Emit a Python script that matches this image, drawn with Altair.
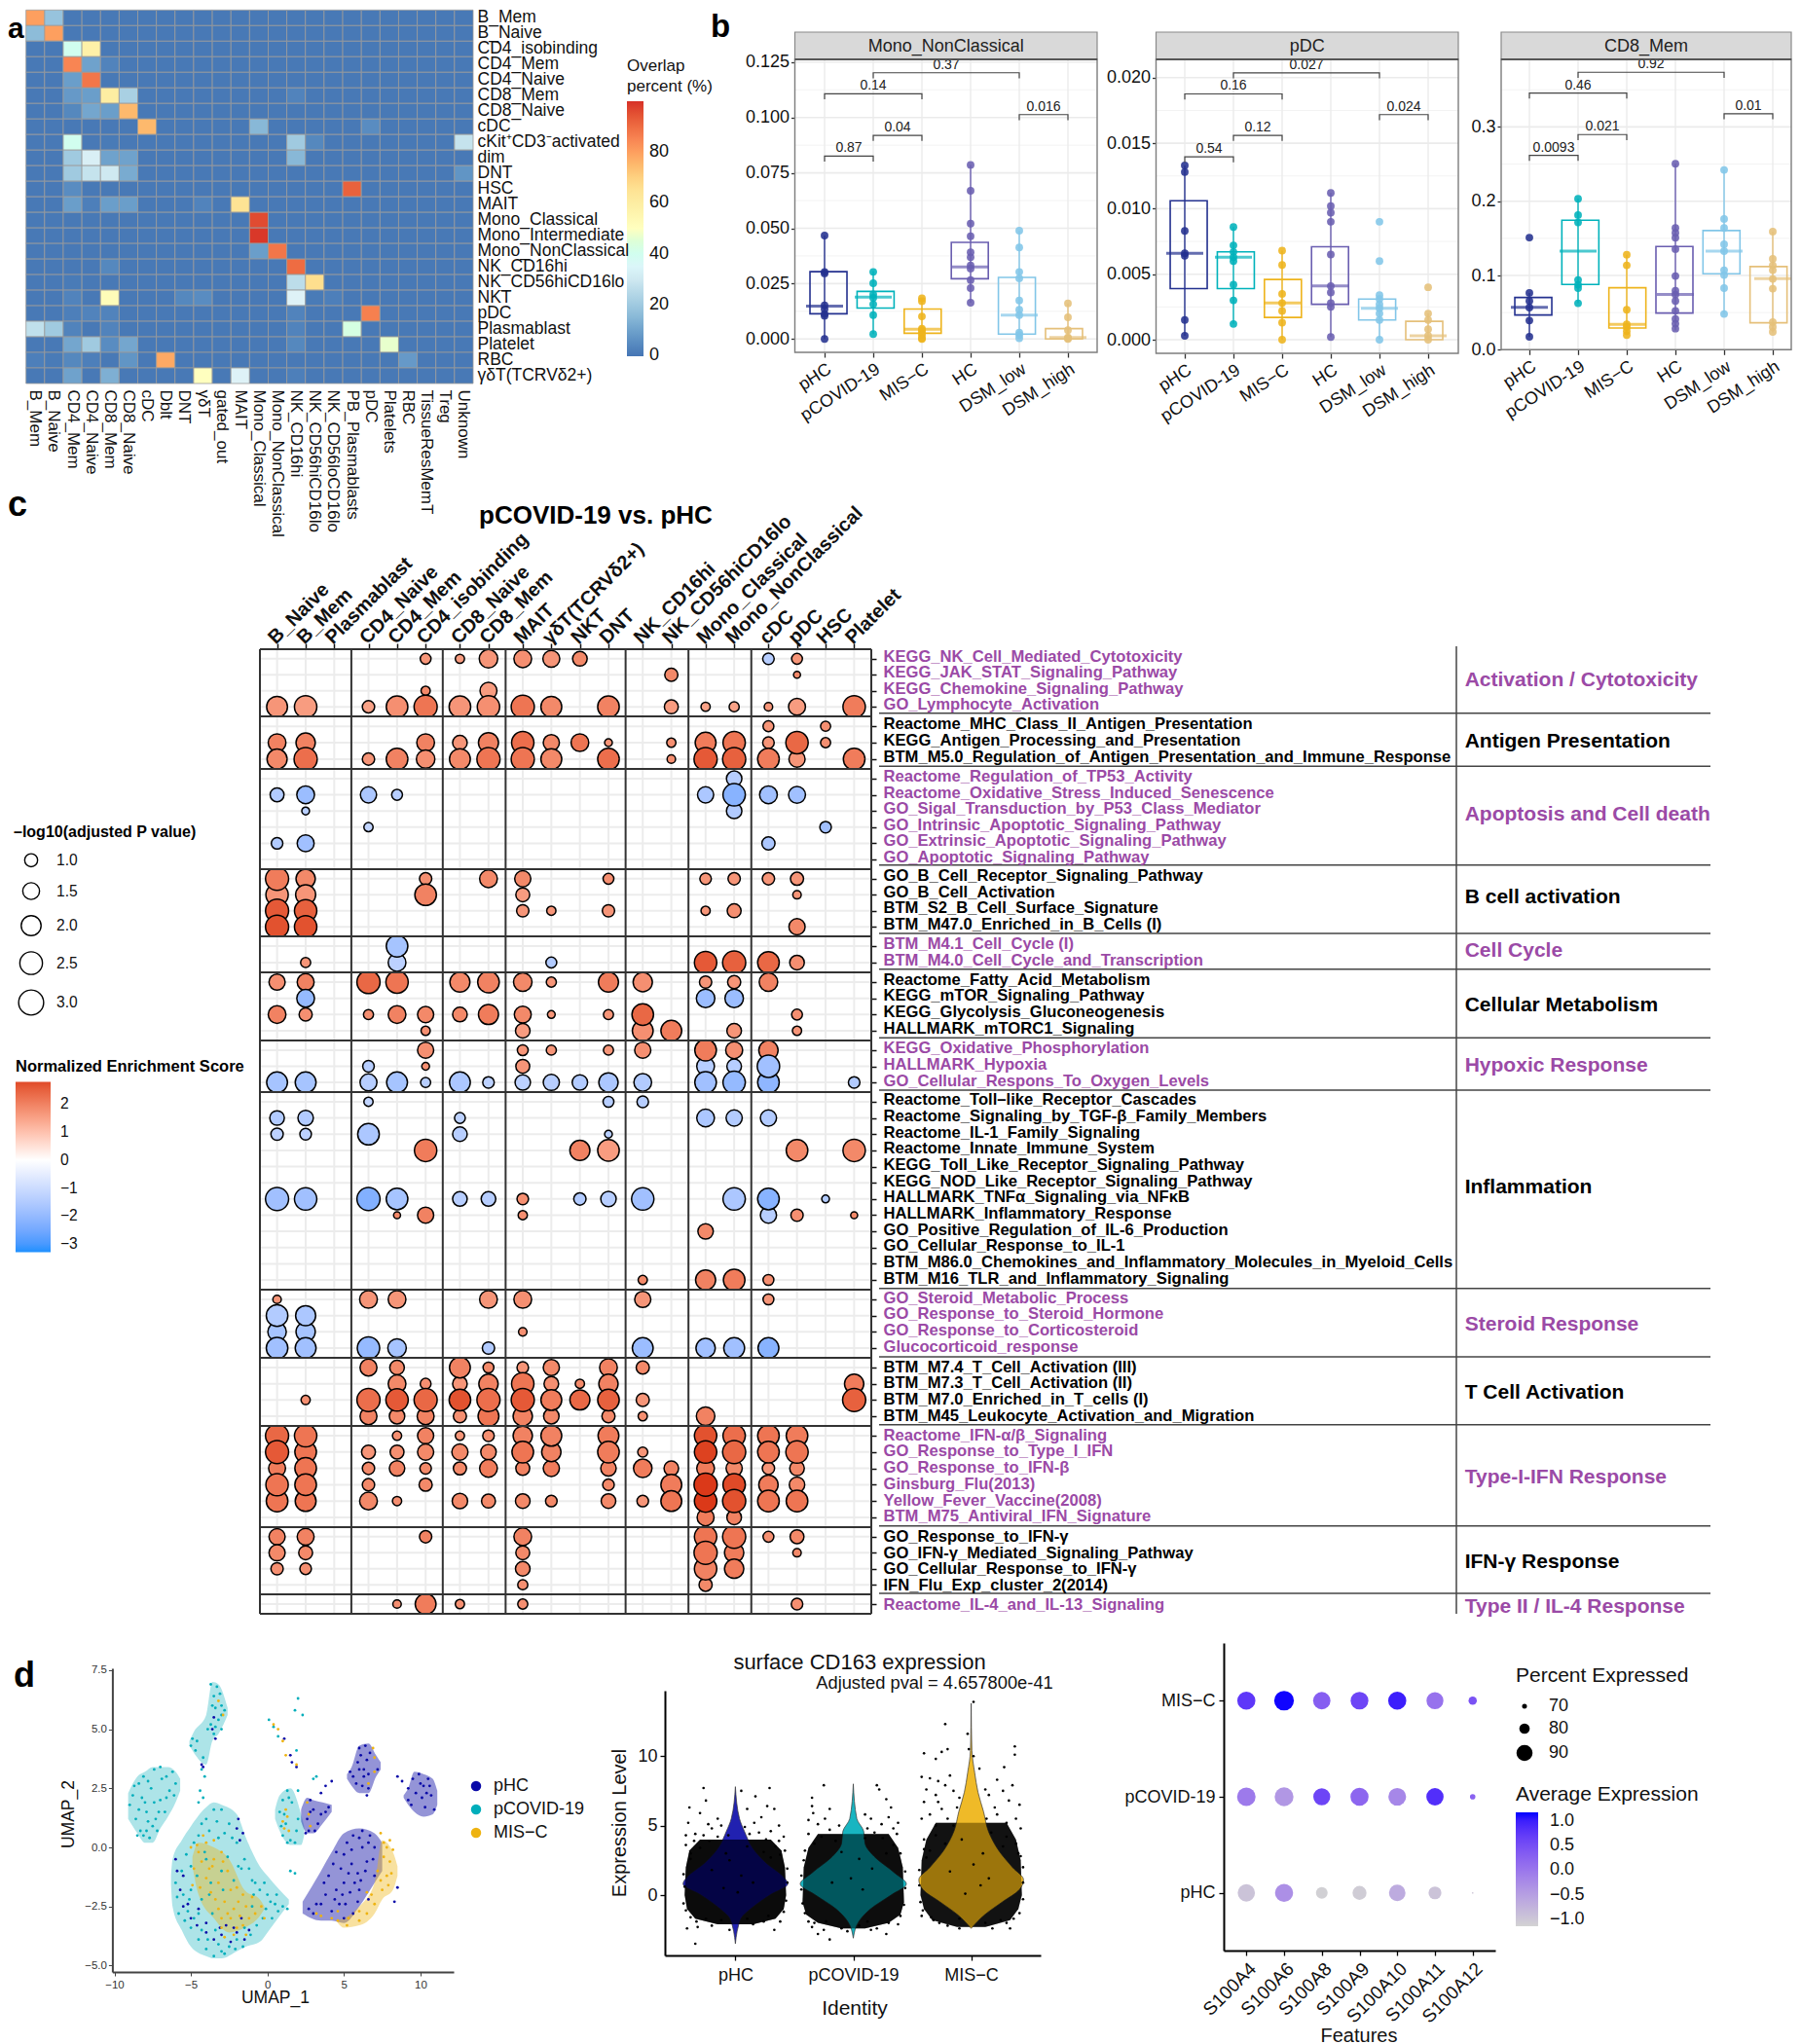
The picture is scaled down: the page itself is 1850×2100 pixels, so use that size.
import altair as alt
import pandas as pd

FONT = "Liberation Sans"
W = 1830
H0 = 658
BOUNDS = [666, 735, 789, 892, 961, 998, 1068, 1121, 1324, 1394, 1464, 1568, 1637, 1657]
HD = 2084 - (1657 - 8)

def lx(X): return X - 8
def ty(Y): return Y - 8
def by(Y): return Y - 1657

# ---------------------------------------------------------------- panel a data
HEAT_COLS = ["B_Mem","B_Naive","CD4_Mem","CD4_Naive","CD8_Mem","CD8_Naive","cDC","Dblt","DNT","γδT","gated_out","MAIT",
             "Mono_Classical","Mono_NonClassical","NK_CD16hi","NK_CD56hiCD16lo","NK_CD56loCD16lo","PB_Plasmablasts",
             "pDC","Platelets","RBC","TissueResMemT","Treg","Unknown"]
HEAT_ROWS = ["B_Mem","B_Naive","CD4_isobinding","CD4_Mem","CD4_Naive","CD8_Mem","CD8_Naive","cDC","cKit⁺CD3⁻activated","dim",
             "DNT","HSC","MAIT","Mono_Classical","Mono_Intermediate","Mono_NonClassical","NK_CD16hi","NK_CD56hiCD16lo","NKT",
             "pDC","Plasmablast","Platelet","RBC","γδT(TCRVδ2+)"]
HEAT_VALUES = {
 "B_Mem":{0:80,1:18}, "B_Naive":{0:16,1:80}, "CD4_isobinding":{2:40,3:58}, "CD4_Mem":{2:85,3:10,4:3}, "CD4_Naive":{2:9,3:88},
 "CD8_Mem":{2:8,3:9,4:60,5:22,14:3}, "CD8_Naive":{2:4,3:11,4:9,5:75}, "cDC":{6:75,12:15,18:5},
 "cKit⁺CD3⁻activated":{2:40,4:1,14:20,15:4,23:28}, "dim":{2:20,3:32,4:10,5:10,14:15}, "DNT":{2:20,3:28,4:30,5:12,23:7},
 "HSC":{2:5,17:92}, "MAIT":{2:9,3:2,4:9,5:9,9:3,11:65}, "Mono_Classical":{12:96}, "Mono_Intermediate":{12:99},
 "Mono_NonClassical":{12:9,13:88}, "NK_CD16hi":{4:4,14:90}, "NK_CD56hiCD16lo":{2:1,14:26,15:67},
 "NKT":{2:3,4:52,8:4,9:5,14:33,15:1,16:2}, "pDC":{2:2,3:3,4:3,14:3,18:86}, "Plasmablast":{0:27,1:20,2:3,4:3,14:3,17:43},
 "Platelet":{2:11,3:20,4:5,5:11,14:4,19:47}, "RBC":{0:2,1:1,2:4,3:2,5:7,7:78,20:8}, "γδT(TCRVδ2+)":{2:10,4:13,9:50,11:33,14:2},
}
HEAT_COLORS = ["#4575b4","#91bfdb","#e0f3f8","#ffffbf","#fee090","#fc8d59","#d73027"]

# ---------------------------------------------------------------- panel b data
B_CATS = ["pHC","pCOVID-19","MIS−C","HC","DSM_low","DSM_high"]
B_COLORS = ["#24318f","#00b2bb","#eeb41c","#6a5eb0","#82c6e8","#e5c07a"]
# per category: box low, median, box high, whisker low, whisker high
F1_BOX = [(.0114,.0149,.0304,0,.0467),(.014,.0189,.0215,.0022,.0307),(.0026,.0044,.0135,0,.0184),
          (.0272,.0325,.0436,.0164,.0786),(.0022,.0108,.0278,0,.0489),(0,.0007,.0047,0,.0161)]
F1_PTS = [[.0467,.0303,.0296,.0152,.0135,.0113,.0105,0],[.0303,.0252,.0201,.0186,.0157,.0108,.0022],
          [.0184,.0171,.0102,.0047,.004,.0029,.0018,.0003,0],[.0786,.0669,.0521,.0464,.0391,.0369,.0332,.0318,.0266,.023,.0164],
          [.0489,.0413,.0303,.0274,.0174,.0132,.0108,.0029,.0018,.0003],[.0161,.0098,.004,.0007,.0003,0]]
F1_BR = [(0,1,.0826,"0.87"),(1,2,.0919,"0.04"),(0,2,.1107,"0.14"),(1,4,.1202,"0.37"),(4,5,.1013,"0.016")]
F2_BOX = [(.0039,.0066,.0106,.0003,.0133),(.0039,.0063,.0067,.0012,.0086),(.0017,.0028,.0046,0,.0068),
          (.0027,.0041,.0071,.0002,.0112),(.0015,.0024,.0031,0,.0034),(0,.0003,.0014,0,.002)]
F2_PTS = [[.0133,.0128,.0083,.0066,.0064,.0015,.0003],[.0086,.0072,.0067,.0063,.006,.0042,.003,.0012],
          [.0068,.0057,.0035,.0028,.0022,.0013,0],[.0112,.0102,.0097,.009,.0065,.0041,.0036,.0028,.0025,.0002],
          [.009,.006,.0034,.0031,.0027,.0024,.002,.0015,0],[.004,.002,.0015,.0008,.0003,0]]
F2_BR = [(0,1,.01396,"0.54"),(1,2,.01559,"0.12"),(0,2,.01876,"0.16"),(1,4,.02037,"0.027"),(4,5,.01718,"0.024")]
F3_BOX = [(.0468,.0572,.0704,.0175,.0765),(.0878,.1328,.1744,.0625,.2032),(.0293,.0341,.0835,.0197,.128),
          (.0494,.0743,.139,.0262,.2504),(.1023,.1328,.1604,.0481,.2421),(.0363,.0957,.1119,.0232,.1591)]
F3_PTS = [[.151,.0765,.0656,.0568,.0393,.0175],[.2032,.1814,.1713,.094,.0874,.083,.0625],[.128,.1136,.0538,.0341,.0306,.0249,.0197],
          [.2504,.1639,.1573,.1508,.1355,.0992,.0795,.0743,.0656,.0524,.0415,.035,.0284],
          [.2421,.1761,.1639,.142,.1328,.1071,.1005,.083,.0481],[.1591,.1224,.1136,.1071,.0953,.0822,.0371,.0306,.024]]
F3_BR = [(0,1,.2618,"0.0093"),(1,2,.2897,"0.021"),(0,2,.3457,"0.46"),(1,4,.3736,"0.92"),(4,5,.3177,"0.01")]

# ---------------------------------------------------------------- panel c data
COL_NAMES = ["B_Naive","B_Mem","Plasmablast","CD4_Naive","CD4_Mem","CD4_isobinding","CD8_Naive","CD8_Mem","MAIT","γδT(TCRVδ2+)",
             "NKT","DNT","NK_CD16hi","NK_CD56hiCD16lo","Mono_Classical","Mono_NonClassical","cDC","pDC","HSC","Platelet"]
COL_KEYS = ["BN","BM","PB","C4N","C4M","C4I","C8N","C8M","MT","GD","NKT","DNT","N16","N56","MC","MN","CD","PD","HS","PL"]
COL_POS = [0,1,2,3.2,4.2,5.2,6.4,7.4,8.6,9.6,10.6,11.6,12.8,13.8,15,16,17.2,18.2,19.2,20.2]
FACET_EDGES = [-.6,2.6,5.8,8,12.2,14.4,16.6,20.8]

G1_L = ["KEGG_NK_Cell_Mediated_Cytotoxicity","KEGG_JAK_STAT_Signaling_Pathway","KEGG_Chemokine_Signaling_Pathway","GO_Lymphocyte_Activation"]
G1 = [[("C4I",.78,1.7),("C8N",.64,1.6),("C8M",1.76,1.7),("MT",1.64,1.8),("GD",1.52,1.7),("NKT",1.2,1.9),("CD",.85,-1.4),("PD",.78,1.7)],
      [("N56",1.02,1.9),("PD",.48,1.9)],
      [("C4I",.64,1.9),("C8M",1.52,1.6)],
      [("BN",2.16,1.7),("BM",2.45,1.6),("C4N",.93,1.5),("C4M",2.3,1.8),("C4I",2.6,2.2),("C8N",2.3,1.7),("C8M",2.45,1.8),("MT",2.6,2.2),
       ("GD",2.16,1.9),("DNT",2.3,2.0),("N56",1.11,1.6),("MC",.64,1.5),("MN",.71,1.5),("CD",.58,1.7),("PD",1.52,1.6),("PL",2.45,2.1)]]
G2_L = ["Reactome_MHC_Class_II_Antigen_Presentation","KEGG_Antigen_Processing_and_Presentation","BTM_M5.0_Regulation_of_Antigen_Presentation_and_Immune_Response"]
G2 = [[("CD",.78,1.7),("HS",.71,1.8)],
      [("BN",1.64,2.0),("BM",1.89,2.0),("C4I",1.64,2.0),("C8N",1.2,1.7),("C8M",2.02,2.0),("MT",2.45,2.3),("GD",1.41,1.9),("NKT",1.64,2.2),
       ("DNT",.53,1.7),("N56",.64,1.8),("MC",2.16,2.1),("MN",2.45,2.2),("CD",.85,1.7),("PD",2.45,2.4),("HS",.71,1.8)],
      [("BN",2.02,1.9),("BM",2.6,2.3),("C4N",.93,1.7),("C4M",2.3,2.0),("C4I",1.76,1.8),("C8N",2.16,1.9),("C8M",2.6,2.2),("MT",2.6,2.2),
       ("GD",2.16,1.9),("DNT",2.3,2.3),("N56",.58,1.8),("MC",2.6,2.6),("MN",2.6,2.5),("CD",2.3,2.1),("PD",1.41,1.7),("PL",2.3,2.1)]]
G3_L = ["Reactome_Regulation_of_TP53_Activity","Reactome_Oxidative_Stress_Induced_Senescence","GO_Sigal_Transduction_by_P53_Class_Mediator",
        "GO_Intrinsic_Apoptotic_Signaling_Pathway","GO_Extrinsic_Apoptotic_Signaling_Pathway","GO_Apoptotic_Signaling_Pathway"]
G3 = [[("MN",1.31,-1.4)],
      [("BN",1.11,-1.5),("BM",1.64,-1.9),("C4N",1.41,-1.6),("C4M",.78,-1.4),("MC",1.41,-1.6),("MN",2.45,-2.2),("CD",1.64,-1.8),("PD",1.52,-1.8)],
      [("BM",.53,-1.4),("MN",1.31,-1.5)],
      [("C4N",.64,-1.2),("HS",.85,-1.8)],
      [("BN",.85,-1.5),("BM",1.52,-1.8),("CD",1.02,-1.6)],
      []]
G4_L = ["GO_B_Cell_Receptor_Signaling_Pathway","GO_B_Cell_Activation","BTM_S2_B_Cell_Surface_Signature","BTM_M47.0_Enriched_in_B_Cells (I)"]
G4 = [[("BN",2.6,2.1),("BM",1.89,1.9),("C4I",.93,1.8),("C8M",1.64,1.9),("MT",1.41,1.9),("DNT",.78,1.8),("MC",.85,1.7),("MN",.93,1.7),("CD",.93,1.7),("PD",1.02,1.7)],
      [("BN",2.45,1.7),("BM",2.02,1.7),("C4I",2.3,2.0),("MT",1.11,1.6),("PD",.58,1.7)],
      [("BN",2.6,2.6),("BM",2.45,2.5),("MT",.93,1.7),("GD",.64,1.7),("DNT",.93,1.7),("MC",.64,1.7),("MN",1.11,1.8)],
      [("BN",2.6,2.7),("BM",2.45,2.7),("PD",1.41,1.9)]]
G5_L = ["BTM_M4.1_Cell_Cycle (I)","BTM_M4.0_Cell_Cycle_and_Transcription"]
G5 = [[("C4M",2.3,-1.7)],
      [("BM",.71,1.7),("C4M",1.64,-1.3),("GD",.78,-1.5),("MC",2.45,2.6),("MN",2.6,2.5),("CD",2.3,2.4),("PD",1.2,1.8)]]
G6_L = ["Reactome_Fatty_Acid_Metabolism","KEGG_mTOR_Signaling_Pathway","KEGG_Glycolysis_Gluconeogenesis","HALLMARK_mTORC1_Signaling"]
G6 = [[("BN",1.41,1.8),("BM",1.52,2.0),("C4N",2.6,2.4),("C4M",2.45,2.2),("C8N",2.02,1.9),("C8M",2.3,2.0),("MT",1.76,1.9),("GD",.71,1.7),
       ("DNT",2.02,2.1),("N16",1.89,1.8),("MC",.93,1.7),("MN",1.02,1.7),("CD",1.76,2.0)],
      [("BM",1.64,-2.0),("MC",1.76,-1.9),("MN",1.76,-1.9)],
      [("BN",1.64,2.0),("BM",1.02,1.8),("C4N",.71,1.8),("C4M",1.64,2.0),("C4I",1.41,1.9),("C8N",1.2,1.9),("C8M",2.02,2.1),("MT",1.52,1.9),
       ("GD",.53,1.7),("DNT",.71,1.7),("N16",2.3,2.4),("PD",.78,1.8)],
      [("C4I",.64,1.8),("MT",1.2,1.6),("N16",2.16,1.8),("N56",2.16,2.1),("MN",1.2,1.7),("PD",.64,1.7)]]
G7_L = ["KEGG_Oxidative_Phosphorylation","HALLMARK_Hypoxia","GO_Cellular_Respons_To_Oxygen_Levels"]
G7 = [[("C4I",1.41,1.8),("MT",.78,1.7),("GD",.71,1.7),("DNT",.71,1.7),("N16",1.41,1.8),("MC",2.3,2.1),("MN",1.52,1.8),("CD",1.89,2.0)],
      [("C4N",.85,-1.4),("C4I",.53,1.8),("MT",1.11,1.7),("MC",1.64,-1.4),("MN",1.2,-1.4),("CD",2.45,-1.8)],
      [("BN",2.16,-1.7),("BM",2.16,-1.7),("C4N",1.52,-1.4),("C4M",2.16,-1.7),("C4I",.71,-1.4),("C8N",2.16,-1.6),("C8M",.85,-1.3),("MT",1.31,-1.3),
       ("GD",1.41,-1.4),("NKT",1.31,-1.5),("DNT",1.89,-1.6),("N16",1.64,-1.5),("MC",2.3,-1.8),("MN",2.45,-2.0),("CD",2.3,-2.1),("PL",.85,-1.5)]]
G8_L = ["Reactome_Toll–like_Receptor_Cascades","Reactome_Signaling_by_TGF-β_Family_Members","Reactome_IL-1_Family_Signaling","Reactome_Innate_Immune_System",
        "KEGG_Toll_Like_Receptor_Signaling_Pathway","KEGG_NOD_Like_Receptor_Signaling_Pathway","HALLMARK_TNFα_Signaling_via_NFκB","HALLMARK_Inflammatory_Response",
        "GO_Positive_Regulation_of_IL-6_Production","GO_Cellular_Response_to_IL-1","BTM_M86.0_Chemokines_and_Inflammatory_Molecules_in_Myeloid_Cells","BTM_M16_TLR_and_Inflammatory_Signaling"]
G8 = [[("C4N",.64,-1.2),("DNT",.78,-1.4),("N16",.85,-1.4)],
      [("BN",1.2,-1.5),("BM",1.31,-1.5),("C8N",.78,-1.3),("MC",1.64,-1.6),("MN",1.41,-1.5),("CD",1.41,-1.5)],
      [("BN",.93,-1.3),("BM",.85,-1.3),("C4N",2.3,-1.6),("C8N",1.2,-1.4),("DNT",.53,-1.4)],
      [("C4I",2.45,2.1),("NKT",2.02,2.0),("DNT",2.3,1.6),("PD",2.3,1.9),("PL",2.45,1.9)],
      [],[],
      [("BN",2.6,-1.8),("BM",2.45,-1.8),("C4N",2.6,-2.3),("C4M",2.3,-1.7),("C8N",1.2,-1.4),("C8M",1.2,-1.4),("MT",.85,1.8),("NKT",.93,-1.5),
       ("DNT",1.31,-1.4),("N16",2.45,-1.8),("MN",2.45,-1.6),("CD",2.3,-2.2),("HS",.53,-1.5)],
      [("C4M",.48,1.9),("C4I",1.41,2.0),("MT",.64,1.8),("CD",1.41,-1.4),("PD",.93,1.8),("PL",.48,1.9)],
      [("MC",1.31,1.9)],
      [],[],
      [("N16",.64,1.9),("MC",2.02,2.0),("MN",2.3,2.1),("CD",.78,1.8)]]
G9_L = ["GO_Steroid_Metabolic_Process","GO_Response_to_Steroid_Hormone","GO_Response_to_Corticosteroid","Glucocorticoid_response"]
G9 = [[("BN",.58,1.7),("C4N",1.64,1.7),("C4M",1.64,1.7),("C8M",1.64,1.7),("MT",1.64,1.8),("N16",1.41,1.7),("CD",.78,1.7)],
      [("BN",2.3,-1.5),("BM",2.02,-1.6)],
      [("BN",1.76,-1.7),("BM",1.89,-1.7),("MT",.58,1.8)],
      [("BN",2.3,-1.8),("BM",2.16,-1.8),("C4N",2.45,-2.0),("C4M",1.76,-1.7),("C8M",.93,-1.5),("N16",2.16,-1.9),("MC",1.89,-1.8),("MN",2.16,-1.8),("CD",2.16,-2.2)]]
G10_L = ["BTM_M7.4_T_Cell_Activation (III)","BTM_M7.3_T_Cell_Activation (II)","BTM_M7.0_Enriched_in_T_cells (I)","BTM_M45_Leukocyte_Activation_and_Migration"]
G10 = [[("C4N",1.52,2.0),("C4M",1.2,1.9),("C8N",2.16,2.0),("C8M",.78,1.9),("MT",.85,1.7),("GD",1.41,1.9),("DNT",1.64,2.0),("N16",1.02,1.9)],
       [("C4M",1.64,1.9),("C4I",.78,1.8),("C8N",1.2,1.7),("C8M",1.89,2.0),("MT",2.45,2.2),("GD",1.2,1.8),("NKT",.64,1.9),("DNT",1.89,2.0),("PL",1.89,2.1)],
       [("BM",.64,1.8),("C4N",2.6,2.3),("C4M",2.45,2.6),("C4I",2.6,2.4),("C8N",2.3,2.7),("C8M",2.6,2.3),("MT",2.6,2.6),("GD",2.16,2.1),("NKT",2.02,2.4),
        ("DNT",2.3,2.5),("N16",1.02,1.7),("PL",2.6,2.5)],
       [("C4N",1.52,2.0),("C4M",1.31,1.9),("C4I",1.52,2.0),("C8N",1.02,1.8),("C8M",2.16,2.2),("MT",1.89,2.0),("GD",1.31,1.9),("DNT",1.02,1.9),("N16",.64,1.8),("MC",1.76,2.0)]]
G11_L = ["Reactome_IFN-α/β_Signaling","GO_Response_to_Type_I_IFN","GO_Response_to_IFN-β","Ginsburg_Flu(2013)","Yellow_Fever_Vaccine(2008)","BTM_M75_Antiviral_IFN_Signature"]
G11 = [[("BN",2.6,2.4),("BM",2.45,2.2),("C4M",.64,1.8),("C4I",1.41,2.0),("C8N",.64,1.7),("C8M",.85,1.8),("MT",1.89,2.0),("GD",2.16,2.0),("DNT",2.16,2.1),
        ("MC",2.45,2.7),("MN",2.45,2.3),("CD",2.3,2.2),("PD",2.3,2.1)],
       [("BN",2.6,2.6),("BM",2.3,2.2),("C4N",1.11,1.7),("C4M",1.11,1.8),("C4I",1.41,1.9),("C8N",1.41,1.9),("C8M",1.31,1.9),("MT",2.3,2.2),("GD",1.89,2.0),
        ("DNT",2.3,2.1),("N16",.71,1.7),("MC",2.45,2.9),("MN",2.6,2.4),("CD",2.3,2.2),("PD",2.45,2.2)],
       [("BN",1.52,2.1),("BM",2.3,2.2),("C4N",.93,1.9),("C4M",1.31,2.0),("C4I",.85,1.9),("C8N",1.02,1.9),("C8M",1.64,2.1),("MT",1.11,2.0),("GD",1.41,2.1),
        ("DNT",1.31,2.0),("N16",1.76,2.1),("N56",1.2,2.0),("MC",1.64,2.1),("MN",1.41,1.9),("CD",.93,1.7),("PD",1.2,1.9)],
       [("BN",2.45,2.2),("BM",2.3,2.2),("C4N",.93,1.9),("C4I",1.02,1.9),("DNT",.85,1.9),("N56",2.16,2.1),("MC",2.6,3.0),("MN",2.45,2.8),("CD",1.89,2.1),("PD",1.31,1.9)],
       [("BN",2.3,2.2),("BM",2.16,2.2),("C4N",1.64,1.9),("C4M",.64,1.8),("C8N",1.31,1.9),("C8M",1.11,1.9),("MT",1.2,1.9),("GD",.85,1.9),("DNT",1.2,1.9),
        ("N16",.85,1.7),("N56",2.16,2.2),("MC",2.45,3.0),("MN",2.6,2.7),("CD",2.3,2.2),("PD",2.3,2.2)],
       [("MC",1.52,2.1),("MN",1.2,2.0)]]
G12_L = ["GO_Response_to_IFN-γ","GO_IFN-γ_Mediated_Signaling_Pathway","GO_Cellular_Response_to_IFN-γ","IFN_Flu_Exp_cluster_2(2014)"]
G12 = [[("BN",1.41,2.0),("BM",1.52,2.0),("C4I",.93,2.0),("MT",1.64,2.0),("MC",2.45,2.2),("MN",2.6,2.2),("CD",.78,1.8),("PD",1.11,1.9)],
       [("BN",1.41,1.9),("BM",1.11,1.9),("MT",1.11,1.9),("MC",2.6,2.2),("MN",1.89,2.1),("PD",.58,1.9)],
       [("BN",.93,1.8),("BM",.85,1.8),("MT",1.2,1.9),("MC",2.45,2.0),("MN",1.89,2.1)],
       [("MT",.71,1.8),("MC",1.02,1.9)]]
G13_L = ["Reactome_IL-4_and_IL-13_Signaling"]
G13 = [[("C4M",.58,1.8),("C4I",2.16,2.1),("C8N",.64,1.8),("MT",.71,1.8),("PD",.85,1.8)]]

ROW_GROUPS = [(G1_L,G1),(G2_L,G2),(G3_L,G3),(G4_L,G4),(G5_L,G5),(G6_L,G6),(G7_L,G7),(G8_L,G8),(G9_L,G9),(G10_L,G10),(G11_L,G11),(G12_L,G12),(G13_L,G13)]
PURPLE = "#9b4aa6"
GROUP_COLORS = [PURPLE,"#000000"]*6 + [PURPLE]
GROUP_NAMES = ["Activation / Cytotoxicity","Antigen Presentation","Apoptosis and Cell death","B cell activation","Cell Cycle","Cellular Metabolism",
               "Hypoxic Response","Inflammation","Steroid Response","T Cell Activation","Type-I-IFN Response","IFN-γ Response","Type II / IL-4 Response"]
GROUP_Y = [697.7,760.7,836,921,975.7,1032,1094,1219,1360,1429.5,1517,1603.5,1650]
SEP_Y = [731.7,786.3,887.7,958,994.7,1065.3,1119,1322.8,1393,1462.8,1566.7,1636]
LABEL_SHIFT = [-2.5,-2.5,-2.5,-3,-2.7,-3,-2,-2,-1.8,-1,-1,0,0]

# ---------------------------------------------------------------- panel d data
U_TEAL_BANDS = [
 [(-9.1,1.2,2.3),(-8.5,.6,3.0),(-8,.2,3.2),(-7.5,.2,3.4),(-7,.8,3.4),(-6.5,1.3,3.4),(-6,1.9,3.2),(-5.7,2.4,2.9)],
 [(-6.3,-1.6,-1.2),(-6.2,-2.5,-.5),(-5.6,-3.5,.3),(-5,-4.2,.9),(-4,-4.6,1.7),(-3.5,-4.7,1.9),(-3,-4.7,1.8),(-2,-4.4,1.4),(-1.4,-4.2,.4),(-.5,-4,-.8),(0,-3.6,-1.2),(.8,-2.9,-1.8),(1.4,-2.4,-2.2)],
 [(-5.1,4.3,4.5),(-4.8,4,4.9),(-4,3.5,5.6),(-3.6,4.5,7),(-3.2,4.8,6.9),(-2.6,5.6,5.9)],
 [(.5,1.2,1.6),(.8,.7,2.2),(1.5,.1,2.5),(2.2,.1,1.4),(2.4,.5,.9)],
]
U_NAVY_BANDS = [
 [(2.2,1.1,1.6),(2.6,.6,2.1),(3,.6,2),(3.6,1,1.9),(4.2,1.5,1.8)],
 [(2.3,-2.8,-2.3),(3.5,-3.1,-1),(4.2,-3.1,-.2),(5,-3.2,.6),(6,-2.5,.8),(7,-1.5,.6),(7.5,-1,.2)],
 [(5.2,2.9,3.1),(5.5,2.6,3.4),(6,2.3,4.3),(6.6,2.3,4.4),(7.1,3,3.9),(7.4,3.3,3.6)],
 [(8.9,2.1,2.2),(9.2,1.8,2.5),(9.6,1.5,3.2),(10.2,1.3,3.1),(10.8,1.4,2.9),(11.1,1.8,2.4)],
]
U_GOLD_BANDS = [
 [(4.6,-3.2,-3.1),(5,-3.4,-3),(6,-3.3,-2.5),(7,-2.8,-1.5),(7.5,-2.2,.3),(8.2,-1.8,-.2),(8.5,-1.2,-.8)],
 [(-4.9,-.8,-.4),(-4.5,-2,.2),(-3.5,-3,0),(-2.5,-3.6,-.5),(-1.5,-3.4,-1.8),(-.5,-2.9,-2.2),(-.2,-2.6,-2.5)],
]
U_TEAL = [(-9,1.8),(-8.7,2.6),(-8.6,1.2),(-8.3,.7),(-8.2,2.1),(-8.1,3),(-7.9,1.5),(-7.7,.4),(-7.6,2.5),(-7.4,3.3),(-7.3,1.2),(-7,2),(-6.9,2.9),(-6.7,1.5),(-6.4,2.4),(-6.2,3.2),(-6,2.7),(-7.5,.9),(-8.5,.5),(-7,3.4),(-8,1.9),(-7.2,.7),
 (-3.7,6.9),(-3.5,6.4),(-3.3,6.8),(-3.6,6),(-3,6),(-2.8,5.8),(-3.2,5.4),(-3.7,5.2),(-3,5),(-3.5,4.8),(-4.9,4.6),(-5,4.3),(-4.7,4.1),(-4.2,3.8),(-4.1,3),(-4.4,2.4),(-4.5,1.9),
 (-5.5,-2),(-6,-1.5),(-5.8,-2.8),(-5,-3.4),(-4.5,-3.9),(-4,-4.3),(-3.5,-4.6),(-3,-4.4),(-2.5,-4.2),(-2,-3.9),(-1.5,-3.4),(-4.5,.5),(-4,1.2),(-3.5,1.6),(-3,1.6),(-2.5,1),(-3.2,.4),(-2,.2),(-1.5,-.5),(-4,-.5),(-5,-.8),(-3,-1),(-2.2,-1.4),(-1,-1.4),(-.5,-1.8),(0,-2),(.5,-2.4),(1,-2.5),(1.3,-2.6),(-1,-2.5),(-.3,-3),(.3,-3),(-3.8,-2),(-5,-1.8),(-4.5,-2.8),(-3.4,-3.5),(-1.9,-.8),(-4.6,-1.2),
 (1,2),(.8,1.5),(1.2,1),(1,.5),(1.5,.3),(1.8,.2),(1.6,1.9),(2,2.4),(1.3,2.4),(3,2.9),(3.2,3),(1.5,-1),(1.8,-1.1),(2,6.3),(2.3,5.6),(1.8,5.8),
 (-8.8,2.2),(-8.4,1.6),(-8.4,2.7),(-7.8,2.8),(-7.8,1.1),(-7.1,1.5),(-6.6,2.1),(-6.6,3),(-6.1,2.2),(-7.4,1.9),(-7.9,.7),(-8.1,.5),
 (-5.2,-2.7),(-5.6,-1),(-5.3,-.3),(-4.8,.2),(-4.3,1),(-3.8,.7),(-3.3,1.1),(-2.8,.6),(-2.3,.4),(-2.6,-.4),(-1.7,-.9),(-1.2,-.9),(-.8,-1.5),(-.2,-1.5),(.2,-2.3),(.7,-2.7),(-.7,-3.3),(-1.1,-3.7),(-1.6,-4.2),(-2.1,-4.3),(-2.8,-4.5),(-3.2,-4.1),(-3.9,-3.9),(-4.3,-3.5),(-4.8,-3),(-5.4,-3.1),(-5.1,-2.2),(-5.9,-2.1),(-4.3,-2.2),(-3.7,-1.5),(-3.6,-2.8),(-4.1,-.2),(-2.9,-1.8),(-.9,-2),(-.1,-2.6),(.6,-2),
 (1.1,1.4),(1.4,2.1),(.9,.9),(1.9,.7),(2,1.2),(1.3,.2),(-3.4,5.9),(-3.1,6.5),(-3,5.6),(-3.4,5.1),(-3.9,5),(-4.6,4.5),(-4.3,3.3),(-4.2,2.1),(.1,5.4),(.4,5.1),(.7,4.7),(1.9,4.1)]
U_NAVY = [(-6,-.5),(-5.9,-1),(-5.7,-1.8),(-5.5,-2.5),(-5,-3),(-4.6,-3.3),(-4,-3.6),(-3.5,-3.9),(-3,-3.7),(-2.4,-4),(-2,-3.6),(-1.5,-3.9),(-1.7,-3),(-2.7,-3.3),(-2,.8),(-1.9,1.2),(-1.8,.3),
 (-3.6,5),(-3.4,4.6),(-3.5,5.5),(-4.3,3.5),(-4.2,3.4),(2.6,1.2),(2.7,.7),(3,1.6),(2.8,2),(3.3,1),(3.8,1.5),(4,1.7),(2.5,.6),(4.2,2.8),(3.8,2.6),(3.5,2.3),(1.5,3.9),(1.9,3.4),
 (6,4.2),(6.4,4.3),(6.7,4),(5.9,3.6),(6.3,3.3),(5.6,3),(6.6,3.1),(6.2,2.6),(6.5,2.2),(5.4,3.2),(7.2,3.3),(8.5,3),(8.8,2.8),
 (9.2,2),(9.5,2.9),(9.9,3.1),(10.2,2.6),(10.5,2.9),(10.7,2.2),(10.3,1.7),(10.9,1.6),(9.7,2.3),(10.1,2.1),
 (5.2,.2),(6,.4),(6.7,.5),(7,0),(4.5,-.2),(5.5,-.7),(6.5,-.6),(4,-1.2),(5,-1.5),(6,-1.8),(7,-1.2),(3.8,-2),(4.7,-2.4),(5.6,-2.8),(3,-2.8),(6.6,-2.2),(8.5,-1.7),(8.3,-2.3),(5,-3),(3.5,-2.4),(4.8,-.9),(5.9,-1.1),
 (4.3,-.7),(5,-.3),(5.6,.5),(6.2,0),(6.4,-1),(5.4,-1.9),(4.5,-1.8),(4.2,-2.7),(3.2,-2.4),(3.7,-1.5),(5.1,-2.4),(5.9,-2.3),(6.9,-.5),(5.5,-.1),(6.1,-1.4),(4.9,-2),(2.7,-2.6),(4.4,-2.2),(5.3,-1.1),(6.6,.2),(6.2,.7),(5.7,-1.5),
 (6.1,3.9),(6.5,3.7),(5.8,2.7),(6.3,3),(6,3.3),(6.6,2.5),(9.4,1.8),(10.6,2.6),(10,2.7),(9.2,2.5),(10.4,2.3),
 (-4,-3.2),(-4.5,-2.6),(-5.2,-2.4),(-2.2,-3.4),(-1.2,-3.5),(-3.1,-3.4),(-5.5,-1.2),(-1.6,.6),(2.8,1.5),(3.1,.7),(3.5,1.4),(1.1,4.6),(1.6,3.6)]
U_GOLD = [(-4.5,-.2),(-4.8,-.9),(-4,-1.3),(-3.5,-.5),(-3,-.2),(-4,.2),(-3.2,-1.5),(-2.6,-1),(-2,-1.7),(-3.4,-2.2),(-2.8,-2.3),(-2.2,-2.6),(-1.6,-2),(-1,-2.1),(-.4,-2.5),(-3,-3),(-2.4,-3),(-1.8,-2.9),(-1.2,-3),(-2,-3.4),(-2.8,-3.8),(-1.4,-3.7),(-3.8,-.9),(-5,0),
 (-3.2,6.2),(-2.9,5.6),(.7,5),(1,4.5),(1.2,3.9),(1.9,3.5),(1,1.1),(1.2,1.6),(1.4,.7),(2.6,1.9),(2.7,1.4),(2.8,.9),(6.9,4.2),(7,3.8),(7,3.2),(6.6,2.7),
 (7.8,0),(8,-.6),(7.8,-1.2),(7.5,-1.8),(7,-2.4),(6.5,-2.8),(6,-3.1),(5.2,-3.3),(4.6,-3.1),(3.5,-2.9),(3.2,-2.8),(7.4,.6),(8.2,-.1),(7.2,-1),(7.9,-1.6),(4.6,-2.7),(6.5,-1.9),
 (-3.6,-.8),(-4.3,-.6),(-4.4,-1.7),(-3.7,-1.9),(-2.9,-.6),(-2.4,-1.8),(-1.9,-2.3),(-2.6,-2.8),(-3.2,-2.6),(-1.4,-2.5),(-.8,-2.8),(-1.6,-3.3),(-2.2,-3.7),(-3,-3.4),(-4.2,.5),(-4.6,.1),(-3.5,.3),(-4.9,-1.6),(7.6,-.4),(7.4,-1.4),(8.1,-1.1),(6.8,-2),(6,-2.7),(5.3,-3),(4.2,-3),(7.6,.2),(8,.3),(1.1,.8),(1.3,1.3),(-.2,-3),(.4,5.2)]
D_GROUPS = ["pHC","pCOVID-19","MIS−C"]
D_COLORS = ["#0a0aa8","#00aebb","#eeb311"]

V_SHAPE = [[(7.8,0),(5.5,.035),(4.6,.076),(3.4,.146),(2.3,.263),(1.3,.41),(.8,.444),(0,.292),(-1,.129),(-1.7,.047),(-3.5,0)],
           [(8,0),(5.5,.03),(4.6,.088),(3.7,.10),(2.8,.175),(1.6,.35),(.8,.45),(0,.32),(-1,.146),(-1.9,.047),(-3.1,0)],
           [(13.8,0),(10.4,.006),(8.8,.03),(7.4,.058),(6,.105),(4.6,.146),(3.2,.234),(2,.35),(1.1,.444),(.4,.41),(-.5,.263),(-1.4,.117),(-2.4,0)]]
V_CLOUD = [[(4,.3),(3.2,.39),(2,.42),(0,.43),(-1,.41),(-1.7,.34),(-2.1,.15)],
           [(4.4,.3),(3.4,.38),(2,.42),(-.5,.43),(-1.4,.4),(-2,.3),(-2.4,.1)],
           [(5.2,.3),(4,.38),(2.5,.42),(0,.43),(-1,.4),(-1.8,.33),(-2.3,.12)]]
V_SHADE = [.55,.45,.28]
V_DOTS = [[(-.39,6.3),(-.27,7.7),(-.25,6.8),(-.3,5.9),(-.4,5.2),(-.15,5.5),(.05,7.5),(.17,7.1),(.29,7.7),(.33,6.2),(.27,6.4),(.22,5.6),(.37,5),(.1,6.2),(-.2,4.8),(-.34,4.4),(.3,4.6),(-.41,-2.4),(-.34,-3.5),(-.32,-2.3),(-.2,-2.2),(.15,-2.1),(.33,-2.5),(.38,-1.9),(-.38,-1.6),(.28,-1.5),(-.05,2.5),(.05,1.4),(-.1,.5),(.1,3.5),(-.08,3),(.02,.2),(.15,.9),(-.2,1.8),
           (-.38,3),(-.3,3.4),(-.22,3.9),(-.35,3.9),(-.27,4.3),(-.15,4.2),(-.38,2.6),(.38,2.9),(.34,3.5),(.26,4),(.37,3.9),(.2,4.5),(.12,4.4),(.24,3.1),(.3,2.7),(-.12,5),(-.06,4.3),(.08,4.9),(.16,5.2),(-.23,5.1),(-.42,4.3),(.41,4.2),(.42,3.2),(-.42,3.6),(-.44,1.5),(-.43,.6),(-.44,-.6),(.44,1.9),(.44,.9),(.43,-.4),(-.42,-1.1),(.41,-1.2),(-.33,-1.9),(-.25,-1.7),(.24,-1.9),(.1,-1.7),(-.12,-1.8),(-.05,-2.5)],
          [(-.35,6.4),(-.34,5.9),(-.35,7),(-.25,7.9),(-.38,5.4),(-.2,6.2),(.1,5.8),(.2,7.9),(.28,6.9),(.22,7.6),(.32,6.3),(.38,5.2),(.3,5.6),(-.12,5),(.12,4.8),(-.3,-2.8),(-.2,-3.2),(-.25,-2.5),(-.1,-2.4),(.15,-2.5),(.2,-2.4),(.38,-2.1),(-.38,-1.9),(-.02,1.2),(.05,2.6),(-.1,3.1),(.08,.4),(-.18,.9),(.16,1.9),
           (-.41,3.2),(-.33,3.7),(-.27,4.2),(-.38,4.4),(-.2,4.7),(-.15,3.9),(-.42,2.5),(.4,3),(.34,3.6),(.25,4.1),(.37,4.4),(.18,4.5),(.1,4.1),(.28,3),(-.3,5.1),(-.24,5.5),(.24,5.1),(.34,4.8),(.15,5.5),(-.44,1.4),(-.44,.4),(-.43,-.6),(.44,1.7),(.44,.5),(.43,-.7),(-.41,-1.3),(.4,-1.5),(-.33,-2),(-.23,-1.9),(.3,-2),(.12,-1.9),(-.05,-2.6),(.05,-2.2),(.28,-2.8),(-.35,-2.3)],
          [(-.4,10.2),(-.25,10.3),(-.2,10.5),(-.3,9.8),(-.22,12.3),(-.03,11.6),(-.02,10.5),(.02,10),(.37,10.7),(.37,10.1),(.28,9.2),(.07,9.1),(.02,13.9),(-.42,8.5),(-.35,8.4),(-.28,8.2),(-.22,7.9),(-.3,7.2),(-.38,7.6),(-.15,7.5),(.12,7.6),(.27,7.5),(.35,7.9),(.32,6.8),(.41,6.5),(-.4,6.7),(-.25,6.2),(.2,6.3),(.38,5.5),(-.42,5.5),(-.3,5),(.3,5.2),(.42,4.8),(-.32,-1.8),(-.2,-2.2),(.12,-2),(.3,-2),(.33,-2.4),(-.1,-1.7),(.02,2.2),(-.08,4),(.1,3),(-.18,1.7),(.08,.7),(-.05,.1),(.15,1.2),
           (-.4,4),(-.35,3.2),(-.3,4.3),(-.22,3.7),(-.15,5),(-.2,5.5),(-.12,6.3),(.17,4.5),(.22,5.8),(.3,4.2),(.38,3.7),(.27,3.5),(.13,5.5),(-.38,2.7),(.42,2.8),(-.44,1.8),(-.44,.7),(-.43,-.5),(.44,2),(.44,.9),(.44,-.3),(-.41,-1.1),(.41,-1.3),(-.34,-1.6),(-.27,-2),(.25,-1.8),(.36,-1.7),(-.1,-2.4),(.18,-2.4),(-.42,-1.5),(-.4,3.3),(.4,3),(-.28,6.7),(.15,7.2),(-.35,5.8),(-.18,8.6),(.22,8.3),(-.1,7)]]

DOT_FEATURES = ["S100A4","S100A6","S100A8","S100A9","S100A10","S100A11","S100A12"]
DOT_GROUPS = ["MIS−C","pCOVID-19","pHC"]
DOT_PCT = [[95.8,98.8,94.3,95.1,95.8,93.7,78.3],[96.4,97.2,93.7,95.8,95.1,94.3,72.6],[94.3,95.8,84.2,88.5,92.9,86.3,67]]
DOT_AVG = [[.75,1.15,.3,.6,1.0,.05,.45],[-.05,-.4,.6,.2,-.2,.85,.25],[-.95,-.3,-1.1,-1.05,-.65,-.95,-1.0]]

# ---------------------------------------------------------------- helpers
def raw_x(f="x"): return alt.X(f"{f}:Q", scale=None, axis=None)
def raw_y(f="y"): return alt.Y(f"{f}:Q", scale=None, axis=None)

def texts(rows, **mark):
    """rows: (x, y, text) in view pixels"""
    df = pd.DataFrame(rows, columns=["x","y","t"])
    return alt.Chart(df).mark_text(**mark).encode(x=raw_x(), y=raw_y(), text="t:N")

def raw_rules(rows, **mark):
    df = pd.DataFrame(rows, columns=["x","x2","y","y2"])
    return alt.Chart(df).mark_rule(**mark).encode(x=raw_x(), x2="x2:Q", y=raw_y(), y2="y2:Q")

def raw_rects(rows, **mark):
    df = pd.DataFrame(rows, columns=["x","x2","y","y2"])
    return alt.Chart(df).mark_rect(**mark).encode(x=raw_x(), x2="x2:Q", y=raw_y(), y2="y2:Q")

# ---------------------------------------------------------------- top view
top_layers = []
heat_df = pd.DataFrame([{"row":r,"col":c,"v":HEAT_VALUES[r].get(i,0.6)} for r in HEAT_ROWS for i,c in enumerate(HEAT_COLS)])
top_layers.append(alt.Chart(heat_df).mark_rect(stroke="#9a9a9a", strokeWidth=.8).encode(
    x=alt.X("col:N", scale=alt.Scale(type="band", domain=HEAT_COLS, range=[lx(26.7),lx(486)], paddingInner=0, paddingOuter=0),
            axis=alt.Axis(orient="bottom", offset=ty(393)-H0, title=None, ticks=False, domain=False, labelAngle=90, labelAlign="left",
                          labelBaseline="middle", labelFontSize=17, labelColor="#111", labelPadding=6, labelLimit=400, labelOverlap=False)),
    y=alt.Y("row:N", scale=alt.Scale(type="band", domain=HEAT_ROWS, range=[ty(9.3),ty(393)], paddingInner=0, paddingOuter=0),
            axis=alt.Axis(orient="right", offset=lx(486)-W, title=None, ticks=False, domain=False, labelFontSize=17.5, labelColor="#111",
                          labelPadding=4, labelLimit=400, labelOverlap=False)),
    color=alt.Color("v:Q", scale=alt.Scale(domain=[-.3,16.7,33.3,50,66.7,83.3,100], range=HEAT_COLORS),
                    legend=alt.Legend(orient="none", legendX=lx(644), legendY=ty(59), title=["Overlap","percent (%)"], titleFontSize=17,
                                      titleFontWeight="normal", titleColor="#111", titleLineHeight=21, titlePadding=6, gradientLength=262, gradientThickness=17,
                                      values=[0,20,40,60,80], labelFontSize=18, labelColor="#111", labelOffset=6, tickCount=5)),
))

def facet(title, X0, X1, CX0, Ybot, Ytop, Y_zero, px_per_unit, ticks, fmt, minor, boxes, pts, br):
    step = 50.0
    dx0, dx1 = (X0-CX0)/step, (X1-CX0)/step
    sx = alt.Scale(domain=[dx0,dx1], range=[lx(X0),lx(X1)])
    d0, d1 = (Y_zero-Ybot)/px_per_unit, (Y_zero-Ytop)/px_per_unit
    sy = alt.Scale(domain=[d0,d1], range=[ty(Ybot),ty(Ytop)])
    out = []
    out.append(raw_rects([(lx(X0),lx(X1),ty(32),ty(60))], fill="#d9d9d9", stroke="#8a8a8a", strokeWidth=1.2))
    # gridlines
    mdf = pd.DataFrame({"x0":dx0,"x1":dx1,"v":minor})
    out.append(alt.Chart(mdf).mark_rule(color="#f3f3f3", strokeWidth=1).encode(
        x=alt.X("x0:Q",scale=sx,axis=None), x2="x1:Q", y=alt.Y("v:Q",scale=sy,axis=None)))
    vdf = pd.DataFrame({"i":list(range(6)),"y0":d0,"y1":d1})
    out.append(alt.Chart(vdf).mark_rule(color="#ebebeb", strokeWidth=1.4).encode(
        x=alt.X("i:Q",scale=sx,axis=None), y=alt.Y("y0:Q",scale=sy,axis=None), y2="y1:Q"))
    gdf = pd.DataFrame({"x0":dx0,"x1":dx1,"v":ticks})
    names = "[" + ",".join(f"'{c}'" for c in B_CATS) + "]"
    out.append(alt.Chart(gdf).mark_rule(color="#ebebeb", strokeWidth=1.6).encode(
        x=alt.X("x0:Q", scale=sx, axis=alt.Axis(orient="bottom", offset=ty(Ybot)-H0, values=[0,1,2,3,4,5], labelExpr=f"{names}[datum.value]",
                title=None, grid=False, domain=False, tickColor="#333", tickSize=5, tickWidth=1.3, labelAngle=-33, labelAlign="right", labelBaseline="top",
                labelFontSize=18, labelColor="#111", labelFlush=False, labelOverlap=False, labelPadding=3, labelBound=False)),
        x2="x1:Q",
        y=alt.Y("v:Q", scale=sy, axis=alt.Axis(orient="left", offset=-lx(X0), values=ticks, format=fmt, title=None, grid=False, domain=False,
                tickColor="#333", tickSize=4, tickWidth=1.3, labelFontSize=18, labelColor="#111", labelFlush=False, labelOverlap=False, labelPadding=2))))
    cats = pd.DataFrame([{"i":i,"c":B_CATS[i],"lo":b[0],"med":b[1],"hi":b[2],"wlo":b[3],"whi":b[4]} for i,b in enumerate(boxes)])
    col = alt.Color("c:N", scale=alt.Scale(domain=B_CATS, range=B_COLORS), legend=None)
    out.append(alt.Chart(cats).mark_rule(strokeWidth=1.4).encode(
        x=alt.X("i:Q",scale=sx,axis=None), y=alt.Y("wlo:Q",scale=sy,axis=None), y2="whi:Q", color=col))
    out.append(alt.Chart(cats).mark_bar(orient="vertical", size=38, fillOpacity=0, strokeWidth=1.6).encode(
        x=alt.X("i:Q",scale=sx,axis=None), y=alt.Y("lo:Q",scale=sy,axis=None), y2="hi:Q", stroke=alt.Stroke("c:N", scale=alt.Scale(domain=B_CATS, range=B_COLORS), legend=None)))
    out.append(alt.Chart(cats).mark_tick(orient="horizontal", size=38, thickness=3).encode(
        x=alt.X("i:Q",scale=sx,axis=None), y=alt.Y("med:Q",scale=sy,axis=None), color=col))
    pdf = pd.DataFrame([{"i":i,"c":B_CATS[i],"v":v} for i,vs in enumerate(pts) for v in vs])
    out.append(alt.Chart(pdf).mark_circle(size=62, opacity=.88).encode(
        x=alt.X("i:Q",scale=sx,axis=None), y=alt.Y("v:Q",scale=sy,axis=None), color=col))
    tip = 5.7/px_per_unit
    rows = []
    for k,(a,b,v,_) in enumerate(br):
        for o,(xx,yy) in enumerate([(a,v-tip),(a,v),(b,v),(b,v-tip)]):
            rows.append({"id":k,"o":o,"x":xx,"y":yy})
    out.append(alt.Chart(pd.DataFrame(rows)).mark_line(color="#444", strokeWidth=1.2).encode(
        x=alt.X("x:Q",scale=sx,axis=None), y=alt.Y("y:Q",scale=sy,axis=None), detail="id:N", order="o:Q"))
    ldf = pd.DataFrame([{"x":(a+b)/2,"y":v,"t":t} for a,b,v,t in br])
    out.append(alt.Chart(ldf).mark_text(fontSize=14, baseline="bottom", dy=-1, color="#222").encode(
        x=alt.X("x:Q",scale=sx,axis=None), y=alt.Y("y:Q",scale=sy,axis=None), text="t:N"))
    out.append(raw_rects([(lx(X0),lx(X1),ty(60),ty(Ybot))], fill=None, fillOpacity=0, stroke="#7d7d7d", strokeWidth=1.4))
    out.append(raw_rules([(lx(X0),lx(X1),ty(60),ty(60))], color="#444", strokeWidth=1.6))
    out.append(texts([(lx((X0+X1)/2),ty(46.5),title)], fontSize=18, color="#222", baseline="middle", align="center"))
    return out

top_layers += facet("Mono_NonClassical",816.5,1127,847,361,60,347.3,56.9/.025,[0,.025,.05,.075,.1,.125],".3f",
                    [.0125,.0375,.0625,.0875,.1125],F1_BOX,F1_PTS,F1_BR)
top_layers += facet("pDC",1187.5,1498,1217,362,60,348,67.3/.005,[0,.005,.01,.015,.02],".3f",
                    [.0025,.0075,.0125,.0175],F2_BOX,F2_PTS,F2_BR)
top_layers += facet("CD8_Mem",1542,1840,1571,358.3,60,358.3,76.3/.1,[0,.1,.2,.3],".1f",
                    [.05,.15,.25,.35],F3_BOX,F3_PTS,F3_BR)

top_layers.append(texts([(lx(8),ty(38),"a")], fontSize=30, fontWeight="bold", color="#000", align="left", baseline="alphabetic"))
top_layers.append(texts([(lx(730),ty(37),"b")], fontSize=33, fontWeight="bold", color="#000", align="left", baseline="alphabetic"))
top_layers.append(texts([(lx(8),ty(529),"c")], fontSize=36, fontWeight="bold", color="#000", align="left", baseline="alphabetic"))
top_layers.append(texts([(lx(492),ty(529),"pCOVID-19 vs. pHC")], fontSize=26, fontWeight="bold", color="#000", align="left", baseline="middle"))
# right column of panel c
top_layers.append(raw_rules([(lx(1496),lx(1496),ty(663),ty(1657))], color="#444", strokeWidth=1.5))
top_layers.append(raw_rules([(lx(903),lx(1757),ty(v),ty(v)) for v in SEP_Y], color="#444", strokeWidth=1.5))
top_layers.append(texts([(lx(1504.7),ty(y),n) for n,y,c in zip(GROUP_NAMES,GROUP_Y,GROUP_COLORS) if c==PURPLE],
                        fontSize=21, fontWeight="bold", color=PURPLE, align="left", baseline="middle"))
top_layers.append(texts([(lx(1504.7),ty(y),n) for n,y,c in zip(GROUP_NAMES,GROUP_Y,GROUP_COLORS) if c!=PURPLE],
                        fontSize=21, fontWeight="bold", color="#000", align="left", baseline="middle"))
RES = dict(x="independent", y="independent", color="independent", stroke="independent", size="independent")
top_view = alt.layer(*top_layers).resolve_scale(**RES).properties(width=W, height=H0)

# ---------------------------------------------------------------- bubble rows
SX = alt.Scale(domain=[-.6,20.8], range=[lx(267),lx(895)])
SIZE = alt.Scale(domain=[.27,3], range=[0,660])
COLOR = alt.Scale(domain=[-3.3,0,2.8], range=["#1e90ff","#ffffff","#e04a28"], interpolate="lab")
KEY_POS = dict(zip(COL_KEYS, COL_POS))

row_views = []
for gi,(labels,rows) in enumerate(ROW_GROUPS):
    h = BOUNDS[gi+1]-BOUNDS[gi]
    sy = alt.Scale(type="point", domain=labels, padding=.6, range=[0,h])
    hdf = pd.DataFrame({"x0":-.6,"x1":20.8,"r":labels})
    x_axis = None
    if gi == 0:
        names = "[" + ",".join(f"'{n}'" for n in COL_NAMES) + "]"
        pos = "[" + ",".join(str(p) for p in COL_POS) + "]"
        x_axis = alt.Axis(orient="top", values=COL_POS, labelExpr=f"{names}[indexof({pos},datum.value)]", title=None, grid=False, domain=False,
                          tickColor="#111", tickSize=6, tickWidth=1.5, labelAngle=-45, labelAlign="left", labelBaseline="middle", labelFontSize=20,
                          labelFontWeight="bold", labelColor="#111", labelOverlap=False, labelFlush=False, labelPadding=3, labelOffset=-6, labelBound=False, labelLimit=400)
    layers = [
        alt.Chart(hdf).mark_rule(color="#ececec", strokeWidth=2).encode(
            x=alt.X("x0:Q", scale=SX, axis=x_axis), x2="x1:Q",
            y=alt.Y("r:N", scale=sy, axis=alt.Axis(orient="right", offset=lx(895)-W, title=None, grid=False, domain=False, tickColor="#111", tickSize=5, tickWidth=1.5,
                    labelColor=GROUP_COLORS[gi], labelFontSize=16.6, labelFontWeight="bold", labelPadding=7, labelLimit=800, labelOverlap=False, labelOffset=LABEL_SHIFT[gi]))),
        alt.Chart(pd.DataFrame({"c":COL_POS})).mark_rule(color="#ececec", strokeWidth=2).encode(
            x=alt.X("c:Q", scale=SX, axis=None), y=alt.value(0), y2=alt.value(h)),
    ]
    bub = pd.DataFrame([{"r":labels[ri],"u":KEY_POS[k],"p":p,"n":n} for ri,row in enumerate(rows) for k,p,n in row])
    size_legend, color_legend = None, None
    if gi == 0:
        size_legend = alt.Legend(orient="none", legendX=lx(14), legendY=180, title="–log10(adjusted P value)", titleFontSize=16, titleFontWeight="bold", titleLimit=400,
                                 titleColor="#000", values=[1,1.5,2,2.5,3], format=".1f", symbolFillColor="#ffffff", symbolStrokeColor="#000", symbolStrokeWidth=1.4,
                                 labelFontSize=15.6, labelColor="#111", rowPadding=10, labelOffset=12, titlePadding=13, symbolType="circle", symbolOffset=4)
        color_legend = alt.Legend(orient="none", legendX=lx(16), legendY=1087-666, title="Normalized Enrichment Score", titleFontSize=16.5, titleFontWeight="bold", titleLimit=400,
                                  titleColor="#000", gradientLength=175, gradientThickness=36, values=[-3,-2,-1,0,1,2], labelFontSize=15.6, labelColor="#111", labelOffset=10, titlePadding=7)
    layers.append(alt.Chart(bub).mark_circle(stroke="#000", strokeWidth=1.5, opacity=1, clip=True).encode(
        x=alt.X("u:Q", scale=SX, axis=None), y=alt.Y("r:N", scale=sy, axis=None),
        size=alt.Size("p:Q", scale=SIZE, legend=size_legend),
        color=alt.Color("n:Q", scale=COLOR, legend=color_legend), order=alt.Order("p:Q", sort="ascending")))
    layers.append(alt.Chart(pd.DataFrame({"c":FACET_EDGES})).mark_rule(color="#333", strokeWidth=2).encode(
        x=alt.X("c:Q", scale=SX, axis=None), y=alt.value(0), y2=alt.value(h)))
    for yy in (0, h):
        layers.append(alt.Chart(pd.DataFrame({"x0":[-.6],"x1":[20.8]})).mark_rule(color="#333", strokeWidth=2).encode(
            x=alt.X("x0:Q", scale=SX, axis=None), x2="x1:Q", y=alt.value(yy)))
    row_views.append(alt.layer(*layers).resolve_scale(**RES).properties(width=W, height=h))

# ---------------------------------------------------------------- bottom view
bot = []
ux = alt.Scale(domain=[(115.4-274.7)/15.72,(466-274.7)/15.72], range=[lx(115.4),lx(466)])
uy = alt.Scale(domain=[(1897-2025)/24.28,(1897-1713)/24.28], range=[by(2025),by(1713)])
def band_layers(bands, color, op):
    res = []
    for b in bands:
        df = pd.DataFrame(b, columns=["x","y0","y1"])
        res.append(alt.Chart(df).mark_area(color=color, opacity=op, interpolate="monotone").encode(
            x=alt.X("x:Q",scale=ux,axis=None), y=alt.Y("y0:Q",scale=uy,axis=None), y2="y1:Q"))
    return res
bot += band_layers(U_TEAL_BANDS,"#33bcc6",.4)
bot += band_layers(U_NAVY_BANDS,"#2a2ab0",.5)
bot += band_layers(U_GOLD_BANDS,"#eeb311",.4)
udf = pd.DataFrame([{"x":x,"y":y,"g":"pCOVID-19"} for x,y in U_TEAL]+[{"x":x,"y":y,"g":"pHC"} for x,y in U_NAVY]+[{"x":x,"y":y,"g":"MIS−C"} for x,y in U_GOLD])
bot.append(alt.Chart(udf).mark_circle(size=8, opacity=1).encode(
    x=alt.X("x:Q", scale=ux, axis=alt.Axis(orient="bottom", offset=by(2025)-HD, values=[-10,-5,0,5,10], title=None, grid=False, domainColor="#444", domainWidth=2,
            tickColor="#444", tickSize=4, labelFontSize=11.5, labelColor="#333", labelFlush=False, labelOverlap=False, labelPadding=3)),
    y=alt.Y("y:Q", scale=uy, axis=alt.Axis(orient="left", offset=-lx(115.4), values=[-5,-2.5,0,2.5,5,7.5], format=".1f", title=None, grid=False, domainColor="#444", domainWidth=2,
            tickColor="#444", tickSize=4, labelFontSize=11.5, labelColor="#333", labelFlush=False, labelOverlap=False, labelPadding=2)),
    color=alt.Color("g:N", scale=alt.Scale(domain=D_GROUPS, range=D_COLORS),
                    legend=alt.Legend(orient="none", legendX=lx(480), legendY=by(1825), title=None, symbolType="circle", symbolSize=110, symbolOpacity=1,
                                      labelFontSize=18, labelColor="#111", rowPadding=6, labelOffset=9))))
bot.append(texts([(lx(283),by(2052),"UMAP_1")], fontSize=17.5, color="#111", align="center", baseline="middle"))
bot.append(texts([(lx(71),by(1863),"UMAP_2")], fontSize=17.5, color="#111", align="center", baseline="middle", angle=270))
bot.append(texts([(lx(14),by(1732),"d")], fontSize=36, fontWeight="bold", color="#000", align="left", baseline="alphabetic"))

# violin
vx = alt.Scale(domain=[(683-755.4)/121.1,(1069-755.4)/121.1], range=[lx(683),lx(1069)])
vy = alt.Scale(domain=[(1946-2008)/14.28,(1946-1736)/14.28], range=[by(2008),by(1736)])
for i,prof in enumerate(V_CLOUD):
    df = pd.DataFrame([{"v":v,"a":i-w,"b":i+w} for v,w in prof])
    bot.append(alt.Chart(df).mark_area(orient="horizontal", color="#000", opacity=.9).encode(
        y=alt.Y("v:Q",scale=vy,axis=None), x=alt.X("a:Q",scale=vx,axis=None), x2="b:Q"))
for i,prof in enumerate(V_SHAPE):
    df = pd.DataFrame([{"v":v,"a":i-w,"b":i+w} for v,w in prof])
    bot.append(alt.Chart(df).mark_area(orient="horizontal", color=D_COLORS[i], opacity=.9, stroke="#222", strokeWidth=.7, interpolate="monotone").encode(
        y=alt.Y("v:Q",scale=vy,axis=None), x=alt.X("a:Q",scale=vx,axis=None), x2="b:Q"))
for i,prof in enumerate(V_CLOUD):
    df = pd.DataFrame([{"v":v,"a":i-w,"b":i+w} for v,w in prof])
    bot.append(alt.Chart(df).mark_area(orient="horizontal", color="#000", opacity=V_SHADE[i]).encode(
        y=alt.Y("v:Q",scale=vy,axis=None), x=alt.X("a:Q",scale=vx,axis=None), x2="b:Q"))
ddf = pd.DataFrame([{"x":i+o,"v":v} for i,ds in enumerate(V_DOTS) for o,v in ds])
bot.append(alt.Chart(ddf).mark_circle(size=7, color="#000", opacity=1).encode(
    x=alt.X("x:Q", scale=vx, axis=alt.Axis(orient="bottom", offset=by(2008)-HD, values=[0,1,2], labelExpr="['pHC','pCOVID-19','MIS−C'][datum.value]", title=None, grid=False,
            domainColor="#000", domainWidth=2, tickColor="#000", tickSize=5, tickWidth=1.3, labelFontSize=18, labelColor="#111", labelAngle=0, labelPadding=6, labelOverlap=False, labelFlush=False)),
    y=alt.Y("v:Q", scale=vy, axis=alt.Axis(orient="left", offset=-lx(683), values=[0,5,10], title=None, grid=False, domainColor="#000", domainWidth=2,
            tickColor="#000", tickSize=5, tickWidth=1.3, labelFontSize=18, labelColor="#111", labelPadding=3, labelFlush=False))))
bot.append(texts([(lx(883),by(1707),"surface CD163 expression")], fontSize=22, color="#111", align="center", baseline="middle"))
bot.append(texts([(lx(960),by(1729),"Adjusted pval = 4.657800e-41")], fontSize=18.3, color="#111", align="center", baseline="middle"))
bot.append(texts([(lx(637),by(1872),"Expression Level")], fontSize=20, color="#111", align="center", baseline="middle", angle=270))
bot.append(texts([(lx(878),by(2063),"Identity")], fontSize=21, color="#111", align="center", baseline="middle"))

# dot plot
dx = alt.Scale(type="point", domain=DOT_FEATURES, padding=.6, range=[lx(1257),lx(1536)])
dy = alt.Scale(type="point", domain=DOT_GROUPS, padding=.6, range=[by(1687),by(2003)])
dot_df = pd.DataFrame([{"f":f,"g":g,"pct":DOT_PCT[gi][fi],"avg":DOT_AVG[gi][fi]} for gi,g in enumerate(DOT_GROUPS) for fi,f in enumerate(DOT_FEATURES)])
bot.append(alt.Chart(dot_df).mark_circle(opacity=1).encode(
    x=alt.X("f:N", scale=dx, axis=alt.Axis(orient="bottom", offset=by(2003)-HD, title=None, grid=False, domainColor="#000", domainWidth=2, tickColor="#000", tickSize=5, tickWidth=1.3,
            labelFontSize=19, labelColor="#111", labelAngle=-45, labelAlign="right", labelBaseline="top", labelOverlap=False, labelPadding=4, labelBound=False)),
    y=alt.Y("g:N", scale=dy, axis=alt.Axis(orient="left", offset=-lx(1257), title=None, grid=False, domainColor="#000", domainWidth=2, tickColor="#000", tickSize=5, tickWidth=1.3,
            labelFontSize=18, labelColor="#111", labelOverlap=False, labelPadding=4)),
    size=alt.Size("pct:Q", scale=alt.Scale(domain=[67,70,80,90,100], range=[3,12.6,85,227,434]),
                  legend=alt.Legend(orient="none", legendX=lx(1557), legendY=by(1710), title="Percent Expressed", titleFontSize=21, titleFontWeight="normal", titleColor="#111", titleLimit=400,
                                    values=[70,80,90], symbolFillColor="#000", symbolStrokeColor="#000", symbolType="circle", labelFontSize=18, labelColor="#111", rowPadding=5, labelOffset=16, titlePadding=12)),
    color=alt.Color("avg:Q", scale=alt.Scale(domain=[-1.14,1.17], range=["#d3d3d3","#0000ff"], interpolate="lab"),
                    legend=alt.Legend(orient="none", legendX=lx(1557), legendY=by(1832), title="Average Expression", titleFontSize=21, titleFontWeight="normal", titleColor="#111", titleLimit=400,
                                      gradientLength=117, gradientThickness=23, values=[-1,-.5,0,.5,1], format=".1f", labelFontSize=18, labelColor="#111", labelOffset=12, titlePadding=8))))
bot.append(texts([(lx(1396),by(2091),"Features")], fontSize=20, color="#111", align="center", baseline="middle"))

bottom_view = alt.layer(*bot).resolve_scale(**RES).properties(width=W, height=HD)

chart = alt.vconcat(top_view, *row_views, bottom_view, spacing=0, bounds="flush").properties(padding=0).configure(font=FONT).configure_view(stroke=None)
chart.save("out.html", embed_options={"renderer": "svg", "actions": False})
